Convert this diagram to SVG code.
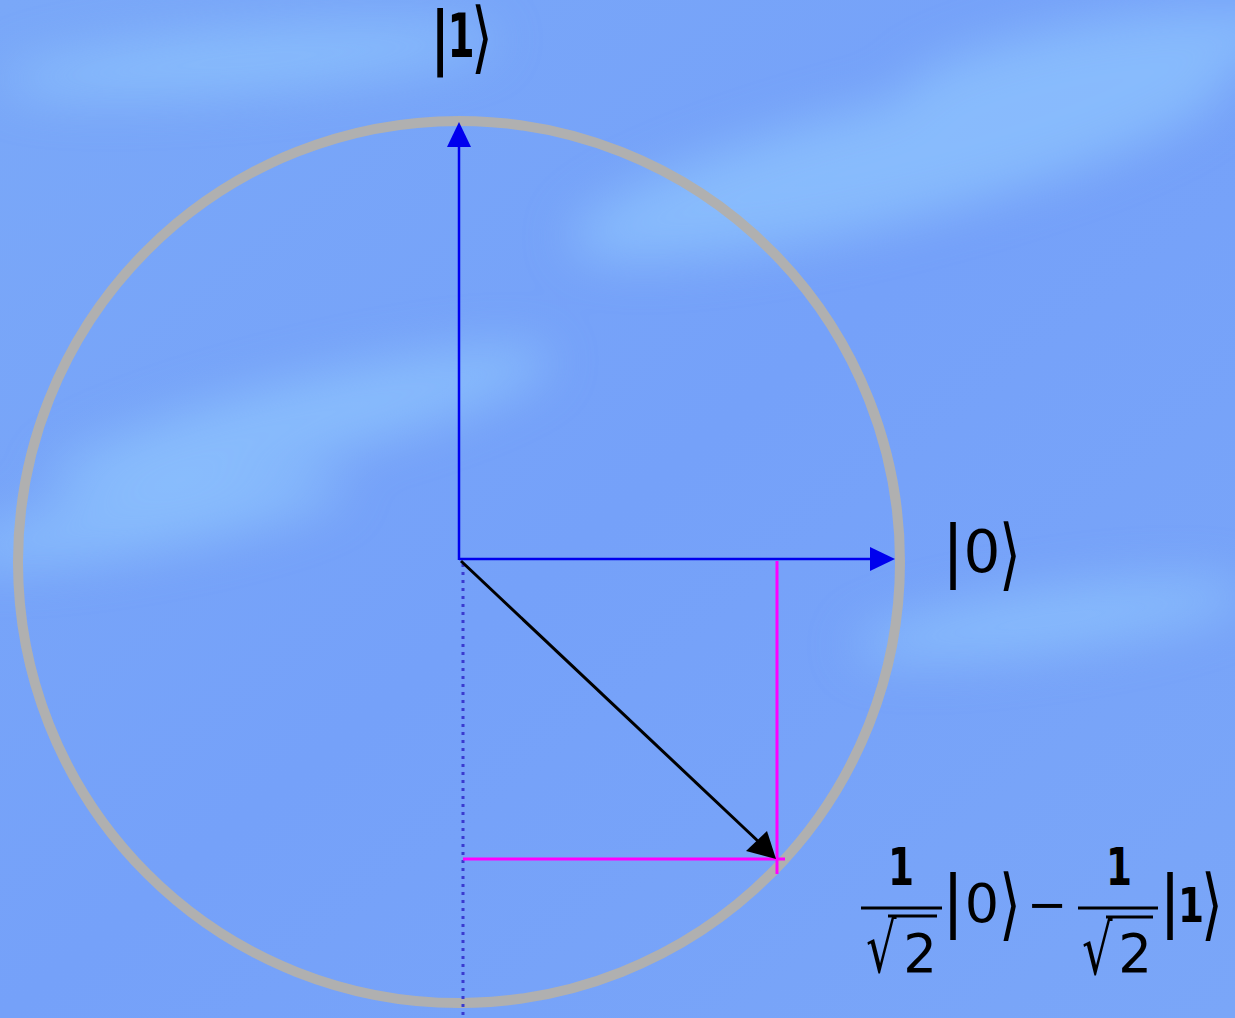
<svg xmlns="http://www.w3.org/2000/svg" width="1235" height="1018" viewBox="0 0 1235 1018">
<defs>
<style>
.lbl{font-family:"DejaVu Sans","Liberation Sans",sans-serif;fill:#000}
.b{font-family:"DejaVu Sans","Liberation Sans",sans-serif;font-weight:bold;fill:#000}
.axis{stroke:#0000ee;stroke-width:2.5;fill:none}
.mag{stroke:#ff00ff;stroke-width:3;fill:none}
.rule{stroke:#000;stroke-width:3}
</style>
<linearGradient id="bg" x1="0" y1="0" x2="1" y2="1">
<stop offset="0" stop-color="#7aa8f8"/>
<stop offset="0.5" stop-color="#75a1f9"/>
<stop offset="1" stop-color="#7aa6f8"/>
</linearGradient>
<filter id="blur" x="-20%" y="-50%" width="140%" height="200%"><feGaussianBlur stdDeviation="25"/></filter>
</defs>
<rect width="1235" height="1018" fill="url(#bg)"/>
<g filter="url(#blur)" fill="#94ccff" opacity="0.6">
<ellipse cx="900" cy="160" rx="340" ry="60" transform="rotate(-14 900 160)"/>
<ellipse cx="1100" cy="60" rx="200" ry="40" transform="rotate(-10 1100 60)"/>
<ellipse cx="300" cy="420" rx="260" ry="40" transform="rotate(-14 300 420)"/>
<ellipse cx="150" cy="520" rx="200" ry="30" transform="rotate(-10 150 520)"/>
<ellipse cx="1050" cy="620" rx="200" ry="30" transform="rotate(-8 1050 620)"/>
<ellipse cx="250" cy="60" rx="250" ry="30" transform="rotate(-5 250 60)"/>
</g>
<g id="circle">
<circle cx="459" cy="562" r="441" fill="none" stroke="#b0b0b0" stroke-width="10"/>
</g>
<g id="connectors">
<line x1="463" y1="564" x2="463" y2="1018" stroke="#3a3ad0" stroke-width="3" stroke-dasharray="3,5"/>
<line class="axis" x1="459" y1="560" x2="459" y2="145"/>
<path d="M459,122 L447,147 L471,147 z" fill="#0000ee"/>
<line class="axis" x1="459" y1="559" x2="872" y2="559"/>
<path d="M895,559 L870,547 L870,571 z" fill="#0000ee"/>
<line class="mag" x1="777" y1="561" x2="777" y2="874"/>
<line class="mag" x1="463" y1="859" x2="785" y2="859"/>
<line x1="461" y1="561" x2="760" y2="843" stroke="#000" stroke-width="3"/>
<path d="M776,859 L746,851 L767,831 z" fill="#000"/>
</g>
<g id="label-1">
<text class="lbl" x="440" y="61" font-size="69" text-anchor="middle">|</text>
<text class="b" font-size="60" text-anchor="middle" transform="translate(461 57) scale(0.65 1)">1</text>
<text class="lbl" font-size="56" text-anchor="middle" transform="translate(482 64) scale(1 1.4)">⟩</text>
</g>
<g id="label-0">
<text class="lbl" x="953" y="574" font-size="67" text-anchor="middle">|</text>
<text class="lbl" x="982" y="572" font-size="58" text-anchor="middle">0</text>
<text class="lbl" font-size="56" text-anchor="middle" transform="translate(1010 581) scale(1 1.4)">⟩</text>
</g>
<g id="label-state">
<text class="b" font-size="52" text-anchor="middle" transform="translate(901 885) scale(0.72 1)">1</text>
<line class="rule" x1="861" y1="908" x2="942" y2="908"/>
<text class="lbl" font-size="48" transform="translate(866 972) scale(1 1.45)">√</text>
<line class="rule" x1="888" y1="916" x2="937" y2="916"/>
<text class="lbl" x="920" y="972" font-size="53" text-anchor="middle">2</text>
<text class="lbl" x="953" y="924" font-size="67" text-anchor="middle">|</text>
<text class="lbl" x="982" y="922" font-size="54" text-anchor="middle">0</text>
<text class="lbl" font-size="56" text-anchor="middle" transform="translate(1010 931) scale(1 1.4)">⟩</text>
<text class="lbl" x="1047" y="921" font-size="48" text-anchor="middle">−</text>
<text class="b" font-size="52" text-anchor="middle" transform="translate(1119 885) scale(0.72 1)">1</text>
<line class="rule" x1="1078" y1="908" x2="1158" y2="908"/>
<text class="lbl" font-size="48" transform="translate(1082 974) scale(1 1.45)">√</text>
<line class="rule" x1="1106" y1="917" x2="1153" y2="917"/>
<text class="lbl" x="1135" y="972" font-size="53" text-anchor="middle">2</text>
<text class="lbl" x="1170" y="924" font-size="67" text-anchor="middle">|</text>
<text class="b" font-size="48" text-anchor="middle" transform="translate(1191 922) scale(0.78 1)">1</text>
<text class="lbl" font-size="56" text-anchor="middle" transform="translate(1212 931) scale(1 1.4)">⟩</text>
</g>
</svg>
